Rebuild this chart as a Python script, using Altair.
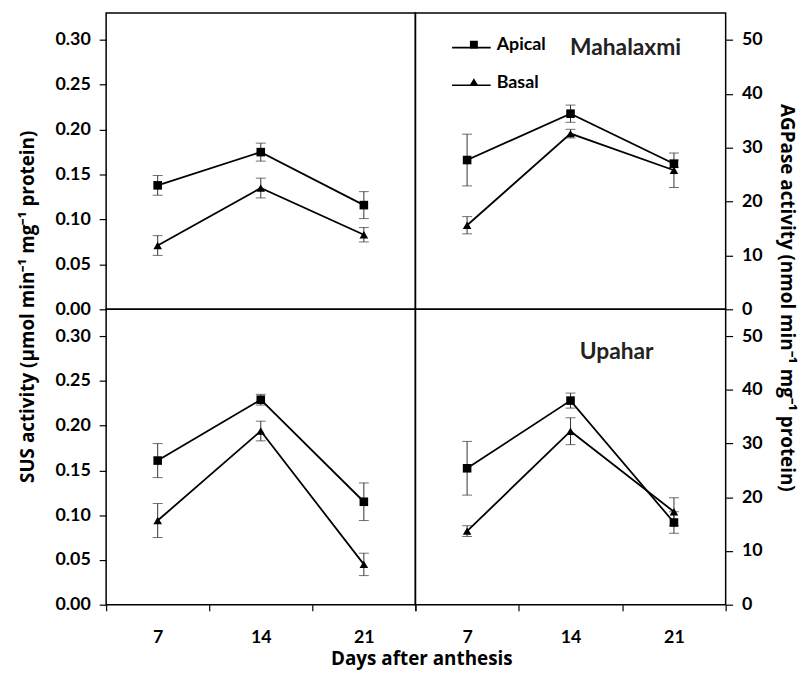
import altair as alt
import pandas as pd

# ---- data ----
days = [7, 14, 21]
series = ["Apical", "Basal"]

# SUS activity (umol min-1 mg-1 protein)
sus_mahalaxmi_apical = [0.138, 0.175, 0.116]
sus_mahalaxmi_apical_err = [0.011, 0.010, 0.015]
sus_mahalaxmi_basal = [0.071, 0.135, 0.083]
sus_mahalaxmi_basal_err = [0.011, 0.011, 0.008]

sus_upahar_apical = [0.161, 0.229, 0.115]
sus_upahar_apical_err = [0.019, 0.006, 0.021]
sus_upahar_basal = [0.094, 0.194, 0.045]
sus_upahar_basal_err = [0.019, 0.011, 0.0125]

# AGPase activity (nmol min-1 mg-1 protein)
agp_mahalaxmi_apical = [27.7, 36.3, 27.0]
agp_mahalaxmi_apical_err = [4.8, 1.6, 0.7]
agp_mahalaxmi_basal = [15.6, 32.6, 25.8]
agp_mahalaxmi_basal_err = [1.6, 0.8, 3.2]

agp_upahar_apical = [25.4, 38.0, 15.3]
agp_upahar_apical_err = [5.0, 1.4, 2.0]
agp_upahar_basal = [13.7, 32.3, 17.3]
agp_upahar_basal_err = [1.0, 2.5, 2.6]

sus_ticks = [0.00, 0.05, 0.10, 0.15, 0.20, 0.25, 0.30]
agp_ticks = [0, 10, 20, 30, 40, 50]
cultivars = ["Mahalaxmi", "Upahar"]

sus_title = "SUS activity (\u03bcmol min\u207b\u00b9 mg\u207b\u00b9 protein)"
agp_title = "AGPase activity (nmol min\u207b\u00b9 mg\u207b\u00b9 protein)"
x_title = "Days after anthesis"

FONT = "Lato"
TFONT = "Open Sans"
TICK_FS = 18
TITLE_FS = 19

SQ_LEG = "M-1,0H1M-0.21,-0.21H0.21V0.21H-0.21Z"
TRI_LEG = "M-1,0H1M0,-0.27L0.24,0.13H-0.24Z"


def make_df(a, ae, b, be):
    rows = []
    for s, vals, errs in ((series[0], a, ae), (series[1], b, be)):
        for d, v, e in zip(days, vals, errs):
            rows.append({"day": d, "series": s, "value": v, "lo": v - e, "hi": v + e})
    return pd.DataFrame(rows)


def panel(df, sus, top, width, height, name=None, legend=False, name_xy=(0, 0)):
    if sus:
        yscale = alt.Scale(domain=[0, 0.33], nice=False, zero=True)
        axis_kw = dict(orient="left", values=sus_ticks, format=".2f", labelPadding=9)
        if top:
            axis_kw.update(title=sus_title, titleX=-79, titleY=height - 3, titleAngle=270,
                           titleBaseline="middle", titleAlign="center")
        else:
            axis_kw.update(title=None)
    else:
        yscale = alt.Scale(domain=[0, 55], nice=False, zero=True)
        axis_kw = dict(orient="right", values=agp_ticks, format="d", labelPadding=9)
        if top:
            axis_kw.update(title=agp_title, titleX=61, titleY=height - 12, titleAngle=90,
                           titleBaseline="middle", titleAlign="center")
        else:
            axis_kw.update(title=None)
    yaxis = alt.Axis(tickSize=7, tickWidth=1.2, tickColor="black", domain=False, grid=False,
                     labelFont=FONT, labelFontSize=TICK_FS, labelFontWeight="bold",
                     labelColor="black", titleFont=TFONT, titleFontSize=TITLE_FS,
                     titleFontWeight="bold", titleColor="black", **axis_kw)

    xscale = alt.Scale(type="band", paddingInner=0, paddingOuter=0)
    if top:
        xaxis = None
    else:
        xkw = dict(title=None)
        if sus:
            xkw = dict(title=x_title, titleX=width + 6, titleY=54, titleBaseline="middle",
                       titleAlign="center")
        xaxis = alt.Axis(tickBand="extent", labelAngle=0, tickSize=6, tickWidth=1.2,
                         tickColor="black", domain=False, grid=False, labelPadding=18,
                         labelFont=FONT, labelFontSize=TICK_FS, labelFontWeight="bold",
                         labelColor="black", titleFont=TFONT, titleFontSize=TITLE_FS,
                         titleFontWeight="bold", titleColor="black", **xkw)

    def xe():
        return alt.X("day:O", scale=xscale, axis=xaxis)

    def ye(f):
        return alt.Y(f + ":Q", scale=yscale, axis=yaxis)

    base = alt.Chart(df)
    bars = base.mark_rule(color="#333", strokeWidth=1).encode(x=xe(), y=ye("lo"), y2="hi:Q")
    cap_lo = base.mark_tick(color="#333", thickness=1, size=10).encode(x=xe(), y=ye("lo"))
    cap_hi = base.mark_tick(color="#333", thickness=1, size=10).encode(x=xe(), y=ye("hi"))
    lines = base.mark_line(color="black", strokeWidth=1.8).encode(
        x=xe(), y=ye("value"), detail="series:N")
    pts = base.mark_point(filled=True, color="black", opacity=1, size=75).encode(
        x=xe(), y=ye("value"),
        shape=alt.Shape("series:N", scale=alt.Scale(domain=series, range=["square", "triangle-up"]),
                        legend=None))
    layers = [bars, cap_lo, cap_hi, lines, pts]
    if legend:
        leg = base.transform_filter("false").mark_point(
            filled=True, color="black", stroke="black", strokeWidth=1.5, opacity=1
        ).encode(
            x=xe(), y=ye("value"),
            shape=alt.Shape("series:N", scale=alt.Scale(domain=series, range=[SQ_LEG, TRI_LEG]),
                            legend=alt.Legend(orient="none", legendX=39, legendY=12, title=None,
                                              symbolSize=1444, symbolStrokeWidth=1.5,
                                              symbolFillColor="black", symbolStrokeColor="black",
                                              symbolOpacity=1, labelFont=FONT, labelFontSize=18,
                                              labelFontWeight="bold", labelColor="black",
                                              labelOffset=3, rowPadding=10, padding=0)))
        layers.append(leg)
        # the line stubs drawn through the legend symbols
        for yy in (35, 73):
            stub = alt.Chart(pd.DataFrame({"s": [0]})).mark_rule(
                color="black", strokeWidth=1.6
            ).encode(x=alt.value(37), x2=alt.value(76), y=alt.value(yy))
            layers.append(stub)
    if name:
        txt = alt.Chart(pd.DataFrame({"label": [name]})).mark_text(
            font=FONT, fontSize=23, fontWeight="bold", color="#222", baseline="middle"
        ).encode(x=alt.value(name_xy[0]), y=alt.value(name_xy[1]), text="label:N")
        layers.append(txt)
    return alt.layer(*layers).resolve_scale(shape="independent").properties(
        width=width, height=height)


tl = panel(make_df(sus_mahalaxmi_apical, sus_mahalaxmi_apical_err,
                   sus_mahalaxmi_basal, sus_mahalaxmi_basal_err), True, True, 312, 299)
tr = panel(make_df(agp_mahalaxmi_apical, agp_mahalaxmi_apical_err,
                   agp_mahalaxmi_basal, agp_mahalaxmi_basal_err), False, True, 313, 299,
           name=cultivars[0], legend=True, name_xy=(212, 35))
bl = panel(make_df(sus_upahar_apical, sus_upahar_apical_err,
                   sus_upahar_basal, sus_upahar_basal_err), True, False, 312, 298)
br = panel(make_df(agp_upahar_apical, agp_upahar_apical_err,
                   agp_upahar_basal, agp_upahar_basal_err), False, False, 313, 298,
           name=cultivars[1], name_xy=(203, 43))

chart = alt.concat(tl, tr, bl, br, columns=2, spacing=0, bounds="flush").configure_view(
    stroke="black", strokeWidth=1.5
).properties(
    padding={"left": 10, "top": 1, "right": 4, "bottom": 5},
    background="white",
)

chart.save("out.html", embed_options={"renderer": "svg", "actions": False})
